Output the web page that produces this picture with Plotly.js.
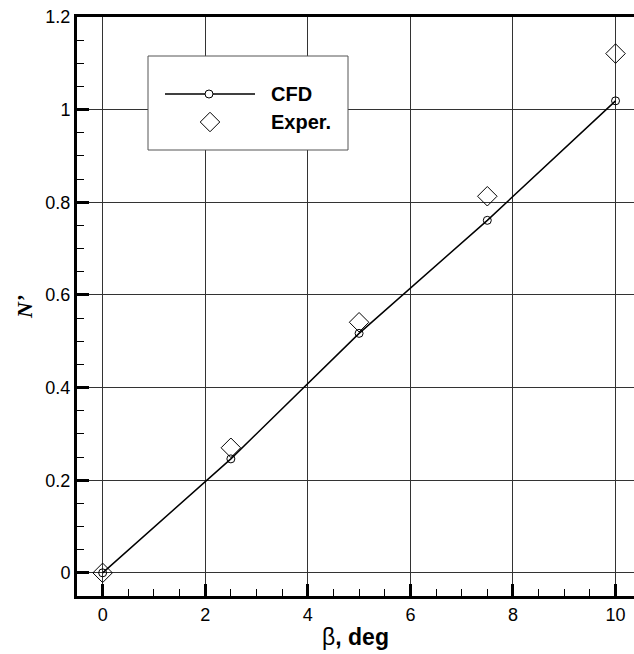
<!DOCTYPE html>
<html>
<head>
<meta charset="utf-8">
<script src="https://cdn.plot.ly/plotly-3.0.1.min.js"></script>
<style>html,body{margin:0;padding:0;background:#fff;}#chart{width:634px;height:654px;}</style>
</head>
<body>
<div id="chart"></div>
<script>
// Data
const beta = [0, 2.5, 5, 7.5, 10];
const cfd = [0, 0.246, 0.517, 0.761, 1.019];
const exper = [0, 0.270, 0.541, 0.813, 1.121];
const xTicks = [0, 2, 4, 6, 8, 10];
const yTicks = [0, 0.2, 0.4, 0.6, 0.8, 1, 1.2];
const yTickText = ['0', '0.2', '0.4', '0.6', '0.8', '1', '1.2'];
const legendNames = ['CFD', 'Exper.'];

const FONT = 'Liberation Sans, Arial, sans-serif';

// plot-area geometry (for the legend box, in pixels relative to plot area)
const XR = [-0.5, 10.36], YR = [-0.05, 1.2];
const PW = 557, PH = 579;
const pxToX = p => XR[0] + (XR[1] - XR[0]) * p / PW;
const pxToY = p => YR[1] - (YR[1] - YR[0]) * p / PH;

const traces = [
  {
    x: beta, y: exper, type: 'scatter', mode: 'markers', name: legendNames[1],
    marker: {symbol: 'diamond-open', size: 15, color: 'black', line: {width: 1, color: 'black'}},
    showlegend: false
  },
  {
    x: beta, y: cfd, type: 'scatter', mode: 'lines+markers', name: legendNames[0],
    line: {color: 'black', width: 1.5},
    marker: {symbol: 'circle-open', size: 8, color: 'black', line: {width: 1, color: 'black'}},
    showlegend: false
  },
  // legend samples (pixel-like coords on hidden axes)
  {
    x: [88, 178], y: [77, 77], xaxis: 'x2', yaxis: 'y2', type: 'scatter', mode: 'lines',
    line: {color: 'black', width: 1.5}, showlegend: false, hoverinfo: 'skip'
  },
  {
    x: [132], y: [77], xaxis: 'x2', yaxis: 'y2', type: 'scatter', mode: 'markers',
    marker: {symbol: 'circle', size: 8, color: 'white', line: {width: 1, color: 'black'}},
    showlegend: false, hoverinfo: 'skip'
  },
  {
    x: [133], y: [105], xaxis: 'x2', yaxis: 'y2', type: 'scatter', mode: 'markers',
    marker: {symbol: 'diamond-open', size: 15, color: 'black', line: {width: 1, color: 'black'}},
    showlegend: false, hoverinfo: 'skip'
  }
];

const layout = {
  width: 634, height: 654,
  margin: {l: 77, r: 0, t: 17, b: 58},
  paper_bgcolor: 'white', plot_bgcolor: 'white',
  showlegend: false,
  font: {family: FONT, color: 'black', size: 18},
  xaxis: {
    range: XR,
    tickvals: xTicks, ticktext: xTicks.map(String),
    ticks: 'inside', ticklen: 12, tickwidth: 3, tickcolor: 'black',
    showline: true, linewidth: 3, linecolor: 'black', mirror: true,
    showgrid: true, gridcolor: '#333', gridwidth: 1,
    zeroline: false,
    tickfont: {family: FONT, size: 18},
    minor: {dtick: 0.5, tick0: 0, ticks: 'inside', ticklen: 7, tickwidth: 1, tickcolor: 'black', showgrid: false},
    title: {text: 'β<b>, deg</b>', font: {family: FONT, size: 23}, standoff: 6}
  },
  yaxis: {
    range: YR,
    tickvals: yTicks, ticktext: yTickText,
    ticks: 'inside', ticklen: 12, tickwidth: 3, tickcolor: 'black',
    showline: true, linewidth: 3, linecolor: 'black', mirror: false,
    showgrid: true, gridcolor: '#333', gridwidth: 1,
    zeroline: false,
    tickfont: {family: FONT, size: 18},
    minor: {dtick: 0.05, tick0: 0, ticks: 'inside', ticklen: 7, tickwidth: 1, tickcolor: 'black', showgrid: false},
    title: {text: '<b><i>N’</i></b>', font: {family: 'Liberation Serif, Times New Roman, serif', size: 22}, standoff: 7}
  },
  xaxis2: {range: [0, PW], overlaying: 'x', anchor: 'y2', visible: false, fixedrange: true},
  yaxis2: {range: [PH, 0], overlaying: 'y', anchor: 'x2', visible: false, fixedrange: true},
  shapes: [
    {type: 'rect', xref: 'x', yref: 'y', x0: pxToX(71), x1: pxToX(271), y0: pxToY(39), y1: pxToY(133),
     fillcolor: 'white', line: {color: '#555', width: 1}, layer: 'between'}
  ],
  annotations: [
    {xref: 'x2', yref: 'y2', x: 192, y: 77, text: '<b>' + legendNames[0] + '</b>', showarrow: false,
     xanchor: 'left', yanchor: 'middle', font: {family: FONT, size: 20, color: 'black'}},
    {xref: 'x2', yref: 'y2', x: 192, y: 105, text: '<b>' + legendNames[1] + '</b>', showarrow: false,
     xanchor: 'left', yanchor: 'middle', font: {family: FONT, size: 20, color: 'black'}}
  ]
};

Plotly.newPlot('chart', traces, layout, {staticPlot: true, displayModeBar: false});
</script>
</body>
</html>
